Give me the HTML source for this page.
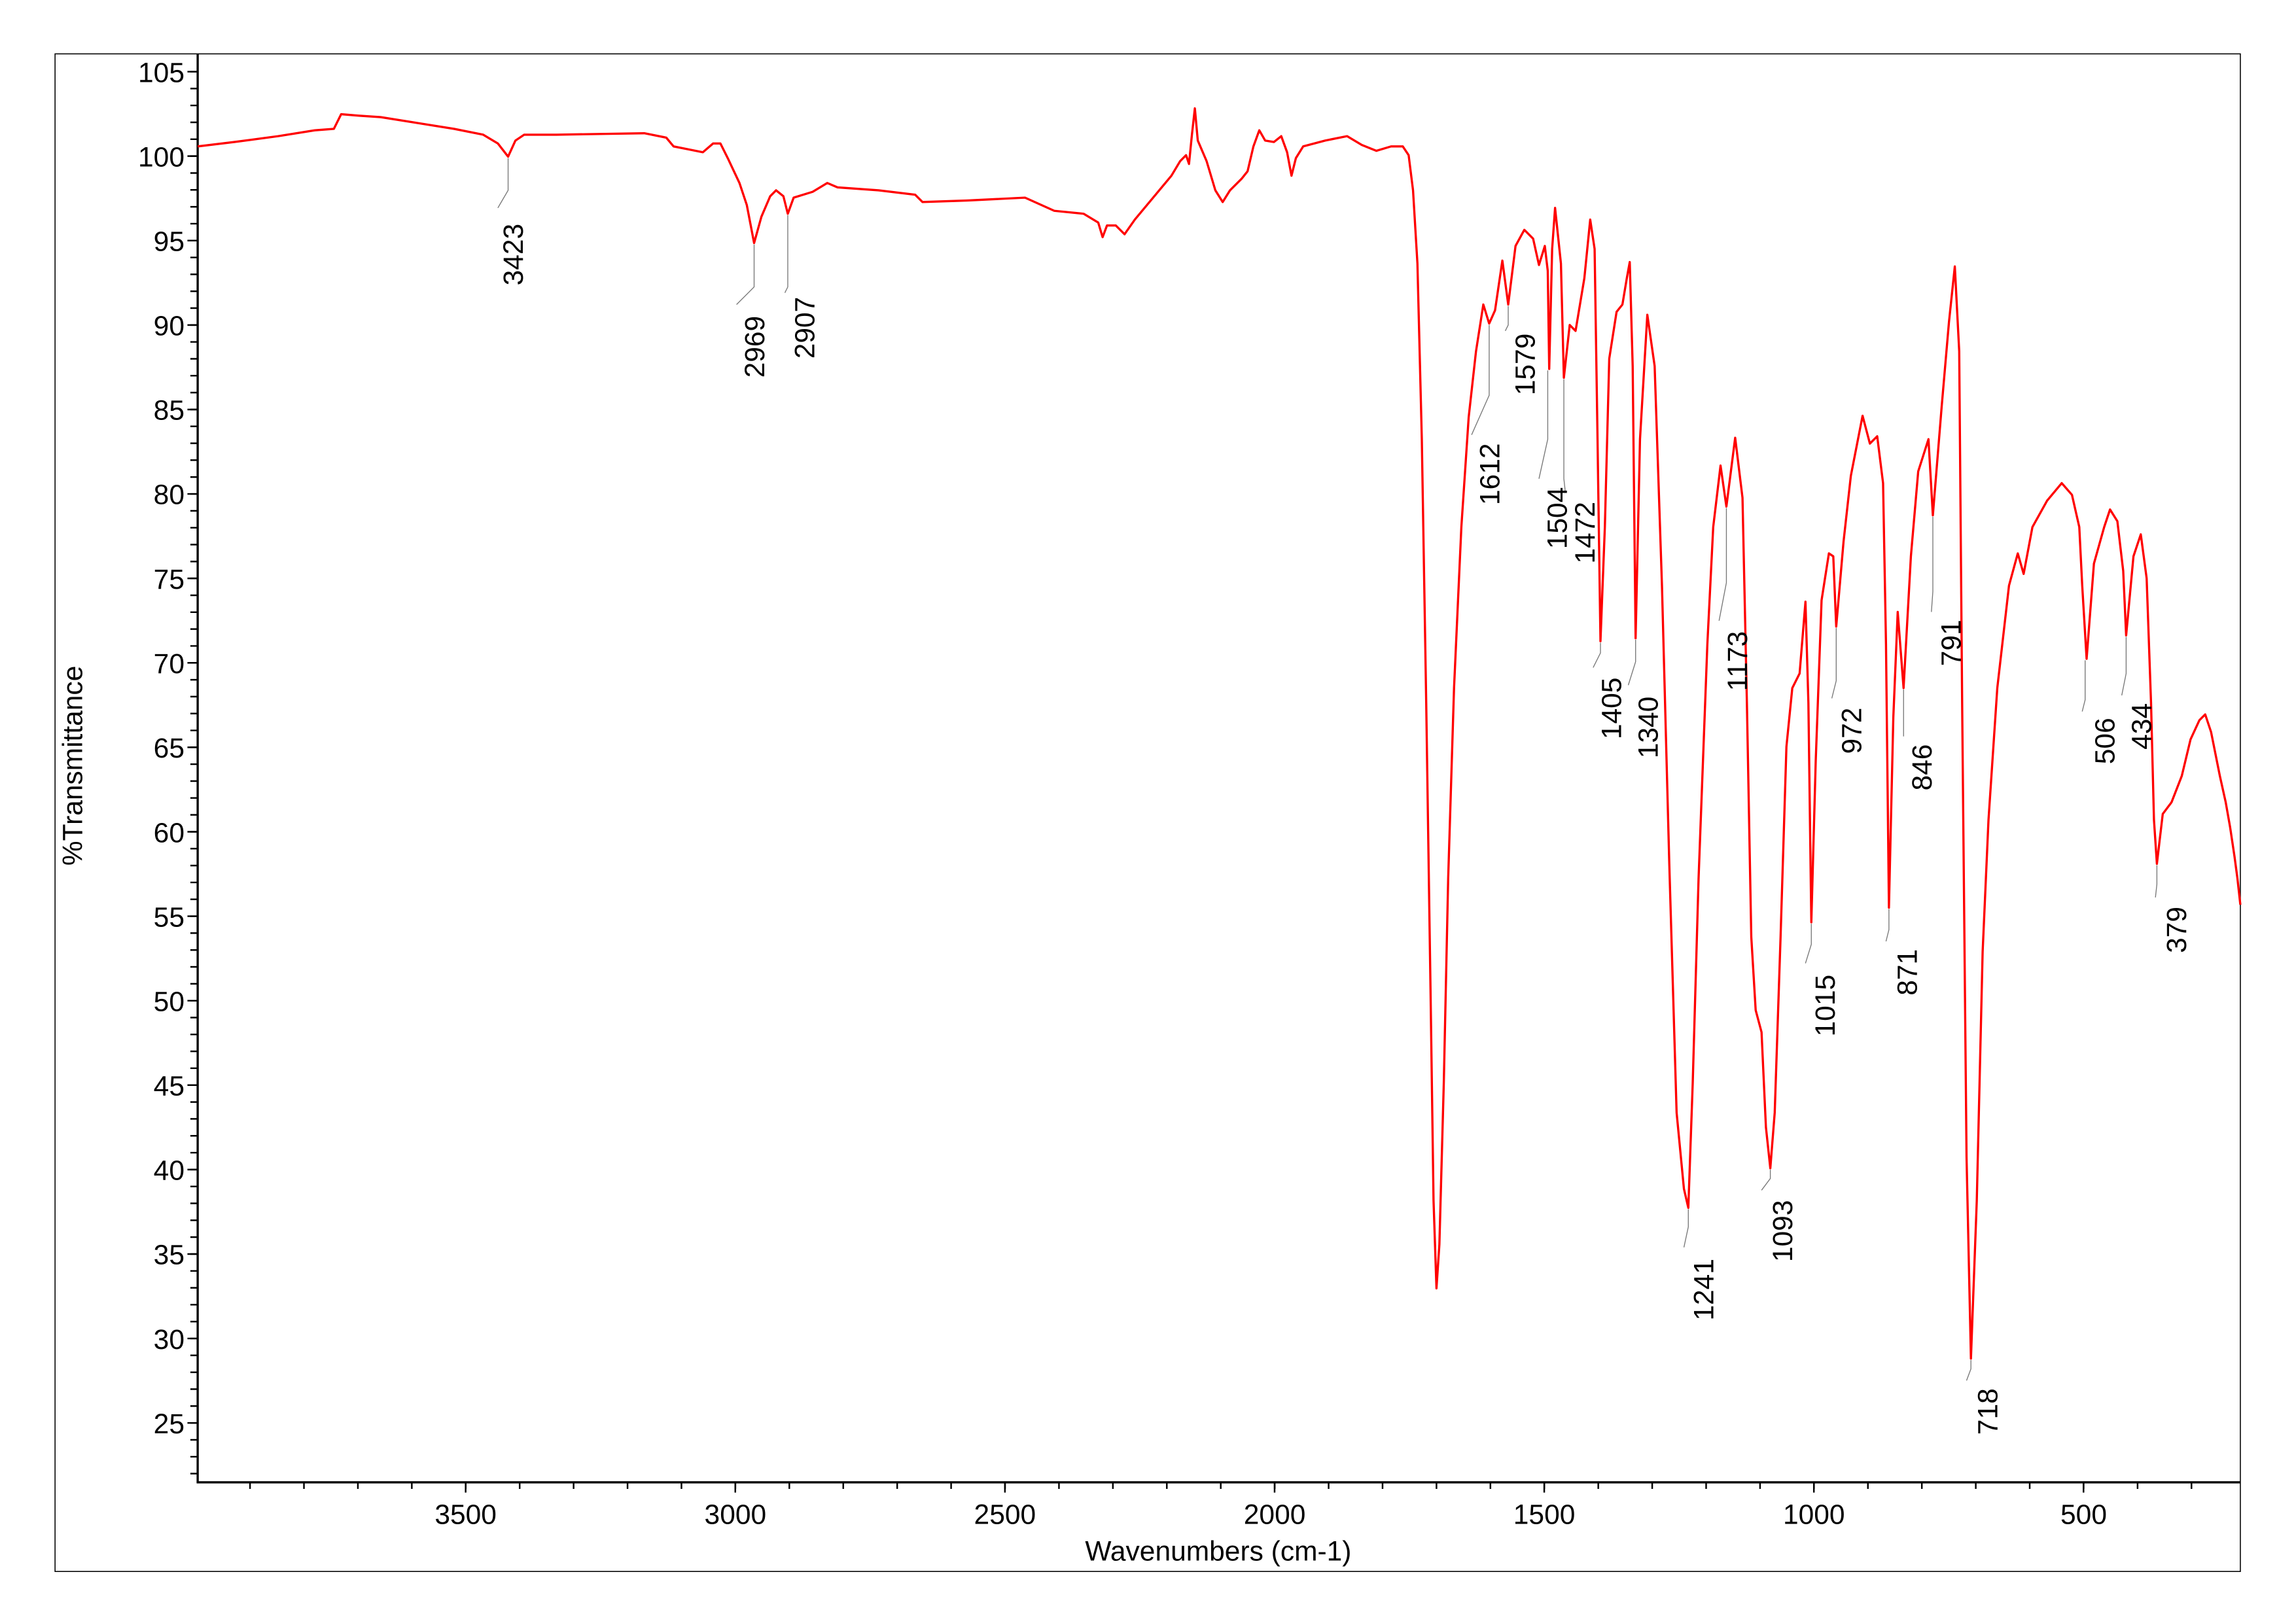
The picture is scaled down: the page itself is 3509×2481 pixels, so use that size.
<!DOCTYPE html>
<html><head><meta charset="utf-8"><style>
html,body{margin:0;padding:0;background:#fff;}
svg{display:block;}
text{font-family:"Liberation Sans",Arial,sans-serif;fill:#000;}
</style></head><body>
<svg width="3509" height="2481" viewBox="0 0 1568 1108.6" preserveAspectRatio="none" xmlns="http://www.w3.org/2000/svg">
<rect x="0" y="0" width="1568" height="1108.6" fill="#fff"/>
<!-- outer frame -->
<rect x="37.6" y="36.8" width="1492.4" height="1036.6" fill="none" stroke="#000" stroke-width="0.7"/>
<!-- axes -->
<line x1="135" y1="36.8" x2="135" y2="1013" stroke="#000" stroke-width="1.5"/>
<line x1="134.3" y1="1012.5" x2="1530" y2="1012.5" stroke="#000" stroke-width="1.5"/>
<!-- y ticks -->
<line x1="132.5" y1="48.4" x2="132.5" y2="1012" stroke="#000" stroke-width="5" stroke-dasharray="1.1 10.4375"/>
<line x1="131.5" y1="48.4" x2="131.5" y2="1012" stroke="#000" stroke-width="7" stroke-dasharray="1.1 56.5875"/>
<!-- x ticks -->
<line x1="170.2" y1="1015" x2="1500" y2="1015" stroke="#000" stroke-width="4" stroke-dasharray="1.1 35.73"/>
<line x1="317.45" y1="1016" x2="1425" y2="1016" stroke="#000" stroke-width="7" stroke-dasharray="1.1 183.05"/>
<!-- y labels -->
<g font-size="19" text-anchor="end">
<text x="126" y="56">105</text><text x="126" y="113.7">100</text><text x="126" y="171.4">95</text><text x="126" y="229">90</text><text x="126" y="286.7">85</text><text x="126" y="344.4">80</text><text x="126" y="402.1">75</text><text x="126" y="459.8">70</text><text x="126" y="517.5">65</text><text x="126" y="575.2">60</text><text x="126" y="632.9">55</text><text x="126" y="690.6">50</text><text x="126" y="748.2">45</text><text x="126" y="805.9">40</text><text x="126" y="863.6">35</text><text x="126" y="921.3">30</text><text x="126" y="979">25</text>
</g>
<g font-size="19" text-anchor="middle">
<text x="318" y="1041">3500</text><text x="502.2" y="1041">3000</text><text x="686.3" y="1041">2500</text><text x="870.5" y="1041">2000</text><text x="1054.6" y="1041">1500</text><text x="1238.8" y="1041">1000</text><text x="1423" y="1041">500</text>
<text x="832" y="1066">Wavenumbers (cm-1)</text>
</g>
<rect x="38" y="445" width="24" height="155" fill="#fff"/>
<text font-size="19" text-anchor="middle" transform="translate(56,523) rotate(-90)">%Transmittance</text>
<!-- spectrum -->
<path fill="none" stroke="#ff0000" stroke-width="1.5" stroke-linejoin="round" d="M135,100 L160,97 L190,93 L215,89 L228,88 L233,78 L245,79 L260,80 L285,84 L310,88 L330,92 L340,98 L347,107 L352,96 L358,92 L380,92 L440,91 L455,94 L460,100 L470,102 L480,104 L487,98 L492,98 L497,108 L505,125 L510,140 L515,166 L520,148 L526,134 L530,130 L535,134 L538,146 L542,135 L555,131 L565,125 L572,128 L600,130 L625,133 L630,138 L660,137 L700,135 L720,144 L740,146 L750,152 L753,162 L756,154 L762,154 L768,160 L775,150 L790,132 L800,120 L806,110 L810,106 L812,112 L814,92 L816,74 L818,96 L824,110 L830,130 L835,138 L840,130 L848,122 L852,117 L856,100 L860,89 L864,96 L870,97 L875,93 L879,104 L882,120 L885,108 L890,100 L905,96 L920,93 L930,99 L940,103 L950,100 L958,100 L962,106 L965,130 L968,180 L971,300 L974,480 L977,680 L979,820 L981,880 L983,850 L986,740 L989,600 L993,470 L998,360 L1003,285 L1008,240 L1013,208 L1017,221 L1021,212 L1026,178 L1030,208 L1035,168 L1041,157 L1047,163 L1051,181 L1055,168 L1057,185 L1058,252 L1060,170 L1062,142 L1066,180 L1068,258 L1072,222 L1076,226 L1082,190 L1086,150 L1089,170 L1091,300 L1093,438 L1096,360 L1099,245 L1104,213 L1108,208 L1111,190 L1113,179 L1115,250 L1117,436 L1120,300 L1125,215 L1130,250 L1135,400 L1140,590 L1145,760 L1150,812 L1153,825 L1156,740 L1160,600 L1166,440 L1170,360 L1175,318 L1179,346 L1185,299 L1190,340 L1193,480 L1196,640 L1199,690 L1203,705 L1206,770 L1209,798 L1212,760 L1216,640 L1220,510 L1224,470 L1229,460 L1233,411 L1235,480 L1237,630 L1240,520 L1244,410 L1249,378 L1252,380 L1254,428 L1259,370 L1264,325 L1272,284 L1277,303 L1282,298 L1286,330 L1288,440 L1290,620 L1293,490 L1296,418 L1300,470 L1305,380 L1310,322 L1317,300 L1320,352 L1326,278 L1331,220 L1335,182 L1338,240 L1340,480 L1343,790 L1346,928 L1350,820 L1354,650 L1358,560 L1364,470 L1372,400 L1378,378 L1382,392 L1388,360 L1398,342 L1408,330 L1415,338 L1420,360 L1422,400 L1425,450 L1430,385 L1437,360 L1441,348 L1446,356 L1450,390 L1452,434 L1457,380 L1462,365 L1466,395 L1469,480 L1471,560 L1473,590 L1477,556 L1483,548 L1490,530 L1496,505 L1502,492 L1506,488 L1510,500 L1516,530 L1520,548 L1523,565 L1526,585 L1528,600 L1530,618"/>
<!-- leaders -->
<g fill="none" stroke="#777" stroke-width="0.6">
<path d="M347,108 V130 L340,142"/>
<path d="M515,167 V196 L503,208"/>
<path d="M538,147 V196 L536,200"/>
<path d="M1017,222 V270 L1005,297"/>
<path d="M1030,209 V222 L1028,226"/>
<path d="M1057,253 V300 L1051,327"/>
<path d="M1068,259 V327 L1069,336"/>
<path d="M1093,439 V446 L1088,456"/>
<path d="M1117,437 V452 L1112,468"/>
<path d="M1153,826 V838 L1150,852"/>
<path d="M1179,347 V398 L1174,424"/>
<path d="M1209,799 V805 L1203,813"/>
<path d="M1237,631 V645 L1233,658"/>
<path d="M1254,429 V465 L1251,477"/>
<path d="M1290,621 V635 L1288,643"/>
<path d="M1300,471 V503"/>
<path d="M1320,353 V404 L1319,418"/>
<path d="M1346,929 V935 L1343,943"/>
<path d="M1424,451 V478 L1422,486"/>
<path d="M1452,435 V460 L1449,475"/>
<path d="M1473,591 V604 L1472,613"/>
</g>
<!-- peak labels -->
<g font-size="19">
<text transform="translate(357,195) rotate(-90)">3423</text>
<text transform="translate(522,258) rotate(-90)">2969</text>
<text transform="translate(556,245) rotate(-90)">2907</text>
<text transform="translate(1024,345) rotate(-90)">1612</text>
<text transform="translate(1048,270) rotate(-90)">1579</text>
<text transform="translate(1070,375) rotate(-90)">1504</text>
<text transform="translate(1089,385) rotate(-90)">1472</text>
<text transform="translate(1107,505) rotate(-90)">1405</text>
<text transform="translate(1132,518) rotate(-90)">1340</text>
<text transform="translate(1170,902) rotate(-90)">1241</text>
<text transform="translate(1193,472) rotate(-90)">1173</text>
<text transform="translate(1224,862) rotate(-90)">1093</text>
<text transform="translate(1253,708) rotate(-90)">1015</text>
<text transform="translate(1271,515) rotate(-90)">972</text>
<text transform="translate(1309,680) rotate(-90)">871</text>
<text transform="translate(1319,540) rotate(-90)">846</text>
<text transform="translate(1339,455) rotate(-90)">791</text>
<text transform="translate(1364,980) rotate(-90)">718</text>
<text transform="translate(1444,522) rotate(-90)">506</text>
<text transform="translate(1469,512) rotate(-90)">434</text>
<text transform="translate(1493,651) rotate(-90)">379</text>
</g>
</svg>
</body></html>
